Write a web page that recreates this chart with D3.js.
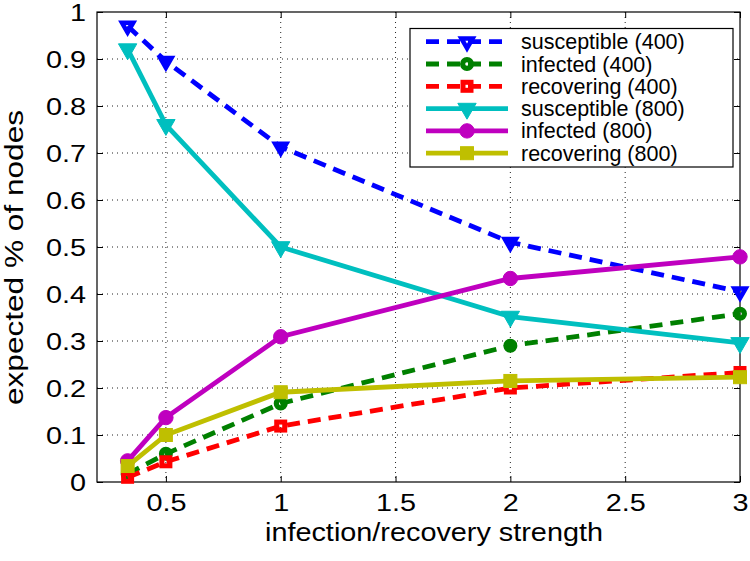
<!DOCTYPE html>
<html>
<head>
<meta charset="utf-8">
<script src="https://cdn.jsdelivr.net/npm/d3@7"></script>
<style>
  html, body { margin: 0; padding: 0; background: #fff; }
  svg { display: block; }
  text { font-family: "Liberation Sans", Arial, Helvetica, sans-serif; fill: #000; }
</style>
</head>
<body>
<svg id="chart" width="750" height="561"></svg>
<script>
// ---- data ----
const strengths = [1/3, 0.5, 1, 2, 3];
const susceptible400 = [0.970, 0.895, 0.713, 0.510, 0.405];
const infected400    = [0.017, 0.060, 0.167, 0.290, 0.358];
const recovering400  = [0.010, 0.043, 0.119, 0.200, 0.233];
const susceptible800 = [0.921, 0.760, 0.500, 0.352, 0.296];
const infected800    = [0.045, 0.137, 0.309, 0.433, 0.479];
const recovering800  = [0.034, 0.100, 0.191, 0.215, 0.223];
const seriesNames = ["susceptible (400)", "infected (400)", "recovering (400)",
                     "susceptible (800)", "infected (800)", "recovering (800)"];
const xTickValues = [0.5, 1, 1.5, 2, 2.5, 3];
const xTickLabels = ["0.5", "1", "1.5", "2", "2.5", "3"];
const yTickValues = [0, 0.1, 0.2, 0.3, 0.4, 0.5, 0.6, 0.7, 0.8, 0.9, 1];
const yTickLabels = ["0", "0.1", "0.2", "0.3", "0.4", "0.5", "0.6", "0.7", "0.8", "0.9", "1"];
const xTitle = "infection/recovery strength";
const yTitle = "expected % of nodes";

// ---- styling (not data) ----
const styles = [
  {color: "#0000ff", dashed: true,  marker: "tri",    filled: false},
  {color: "#008000", dashed: true,  marker: "circle", filled: false},
  {color: "#ff0000", dashed: true,  marker: "square", filled: false},
  {color: "#00bfbf", dashed: false, marker: "tri",    filled: true},
  {color: "#bf00bf", dashed: false, marker: "circle", filled: true},
  {color: "#bfbf00", dashed: false, marker: "square", filled: true}
];
const seriesValues = [susceptible400, infected400, recovering400,
                      susceptible800, infected800, recovering800];

const svg = d3.select("#chart");
const L = 97, R = 740, T = 12, B = 482;
const x = d3.scaleLinear().domain([0.2, 3]).range([L, R]);
const y = d3.scaleLinear().domain([0, 1]).range([B, T]);

// grid
const grid = svg.append("g");
grid.selectAll("line.vx").data(xTickValues.filter(v => v < 3)).enter().append("line")
  .attr("x1", d => x(d)).attr("x2", d => x(d)).attr("y1", T).attr("y2", B)
  .attr("stroke", "#222").attr("stroke-width", 1).attr("stroke-dasharray", "1,4");
grid.selectAll("line.hy").data(yTickValues.filter(v => v > 0 && v < 1)).enter().append("line")
  .attr("x1", L).attr("x2", R).attr("y1", d => y(d)).attr("y2", d => y(d))
  .attr("stroke", "#222").attr("stroke-width", 1).attr("stroke-dasharray", "1,4");

// axes
const SX = 1.2;
const xAxis = svg.append("g").attr("transform", `translate(0,${B})`)
  .call(d3.axisBottom(x).tickValues(xTickValues).tickSize(-6)
        .tickFormat((d, i) => xTickLabels[i]));
xAxis.select(".domain").remove();
xAxis.selectAll("line").attr("stroke", "#000");
xAxis.selectAll("text").attr("y", 29).attr("dy", 0)
  .attr("font-size", 24).attr("transform", `scale(${SX},1)`)
  .style("font-family", '"Liberation Sans", Arial, sans-serif');

const yAxis = svg.append("g").attr("transform", `translate(${L},0)`)
  .call(d3.axisLeft(y).tickValues(yTickValues).tickSize(-6)
        .tickFormat((d, i) => yTickLabels[i]));
yAxis.select(".domain").remove();
yAxis.selectAll("line").attr("stroke", "#000");
yAxis.selectAll("text").attr("x", -11 / SX).attr("dy", "0.36em")
  .attr("font-size", 24).attr("transform", `scale(${SX},1)`)
  .style("font-family", '"Liberation Sans", Arial, sans-serif');

const topAxis = svg.append("g").attr("transform", `translate(0,${T})`)
  .call(d3.axisTop(x).tickValues(xTickValues).tickSize(-6).tickFormat(""));
topAxis.select(".domain").remove();
const rightAxis = svg.append("g").attr("transform", `translate(${R},0)`)
  .call(d3.axisRight(y).tickValues(yTickValues).tickSize(-6).tickFormat(""));
rightAxis.select(".domain").remove();

svg.append("rect").attr("x", L).attr("y", T).attr("width", R - L).attr("height", B - T)
  .attr("fill", "none").attr("stroke", "#000").attr("stroke-width", 1.2);

// markers
function drawMarker(g, st, cx, cy) {
  const c = st.color;
  if (st.marker === "circle") {
    if (st.filled) {
      g.append("circle").attr("cx", cx).attr("cy", cy).attr("r", 7.2)
        .attr("fill", c).attr("stroke", c).attr("stroke-width", 1);
    } else {
      g.append("circle").attr("cx", cx).attr("cy", cy).attr("r", 4.4)
        .attr("fill", "none").attr("stroke", c).attr("stroke-width", 5.2);
    }
  } else if (st.marker === "square") {
    if (st.filled) {
      g.append("rect").attr("x", cx - 6.5).attr("y", cy - 6.5).attr("width", 13).attr("height", 13)
        .attr("fill", c).attr("stroke", c).attr("stroke-width", 1);
    } else {
      g.append("rect").attr("x", cx - 4).attr("y", cy - 4).attr("width", 8).attr("height", 8)
        .attr("fill", "none").attr("stroke", c).attr("stroke-width", 5);
    }
  } else {
    const r = st.filled ? 5.3 : 3.25;
    const s3 = Math.sqrt(3);
    const pts = [[cx, cy + 2 * r], [cx - s3 * r, cy - r], [cx + s3 * r, cy - r]];
    g.append("path").attr("d", "M" + pts.map(p => p.join(",")).join("L") + "Z")
      .attr("fill", st.filled ? c : "none").attr("stroke", c)
      .attr("stroke-width", st.filled ? 1 : 4.5).attr("stroke-linejoin", "miter");
  }
}

// series
const line = d3.line().x(d => x(d[0])).y(d => y(d[1]));
seriesValues.forEach((vals, i) => {
  const st = styles[i];
  const g = svg.append("g");
  const pts = strengths.map((s, j) => [s, vals[j]]);
  g.append("path").attr("d", line(pts)).attr("fill", "none")
    .attr("stroke", st.color).attr("stroke-width", 4.8)
    .attr("stroke-dasharray", st.dashed ? "13,8" : null);
  pts.forEach(p => drawMarker(g, st, x(p[0]), y(p[1])));
});

// legend
const lg = svg.append("g");
lg.append("rect").attr("x", 410).attr("y", 28.5).attr("width", 323).attr("height", 138.5)
  .attr("fill", "#fff").attr("stroke", "#000").attr("stroke-width", 1.2);
seriesNames.forEach((name, i) => {
  const st = styles[i];
  const yy = 41.7 + i * 22.3;
  lg.append("line").attr("x1", 426).attr("x2", 508).attr("y1", yy).attr("y2", yy)
    .attr("stroke", st.color).attr("stroke-width", 4.8)
    .attr("stroke-dasharray", st.dashed ? "13,8" : null);
  drawMarker(lg, st, 467, yy);
  lg.append("text").attr("x", 521).attr("y", yy + 7.5).attr("font-size", 21.5).text(name);
});

// axis titles
svg.append("text").attr("x", 265).attr("y", 541).attr("font-size", 26)
  .attr("textLength", 338).attr("lengthAdjust", "spacingAndGlyphs").text(xTitle);
svg.append("text").attr("transform", "translate(23,405) rotate(-90)")
  .attr("font-size", 25).attr("textLength", 295).attr("lengthAdjust", "spacingAndGlyphs").text(yTitle);
</script>
</body>
</html>
